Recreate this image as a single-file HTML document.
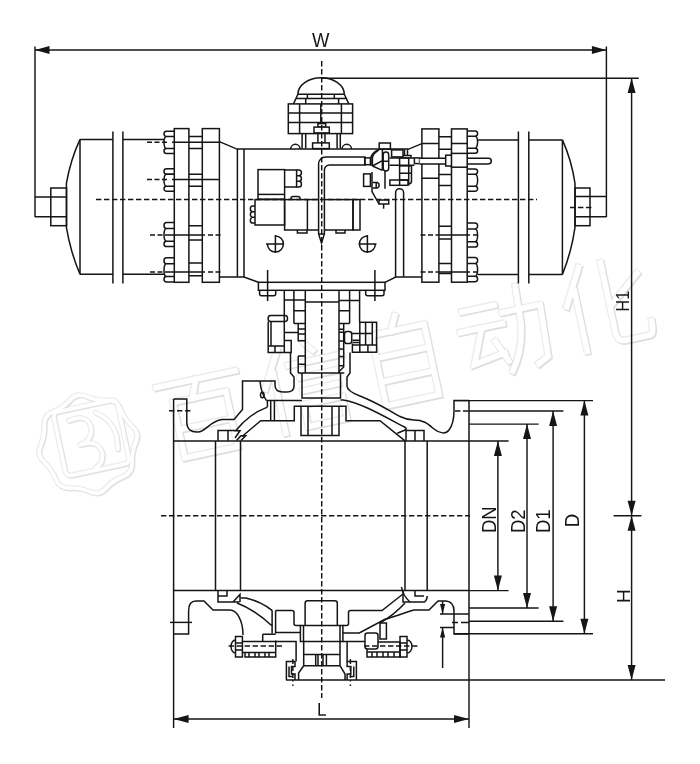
<!DOCTYPE html>
<html><head><meta charset="utf-8">
<style>
html,body{margin:0;padding:0;background:#fff;}
body{width:700px;height:764px;overflow:hidden;font-family:"Liberation Sans",sans-serif;}
svg{display:block}
.l{fill:none;stroke:#151515;stroke-width:1.5;stroke-linecap:butt;stroke-linejoin:miter}
.f{fill:#fff;stroke:#151515;stroke-width:1.5;stroke-linejoin:miter}
.t{fill:none;stroke:#151515;stroke-width:1.45}
.d{fill:none;stroke:#151515;stroke-width:1.45;stroke-dasharray:5.4 2.6}
.a{fill:#151515;stroke:none}
.w{fill:none;stroke:#dcdcdc;stroke-width:1.3;stroke-linecap:round;stroke-linejoin:round}
text{font-family:"Liberation Sans",sans-serif;fill:#151515}
</style></head>
<body>
<svg width="700" height="764" viewBox="0 0 700 764">
<rect width="700" height="764" fill="#fff"/>
<g id="wm" fill="none" stroke-linecap="square" stroke-linejoin="miter">
<g stroke="#ececec" stroke-width="7.5">
<g transform="translate(148.8,377.3) rotate(-12) scale(0.9)"><path d="M5,12H95 M50,12L42,32 M20,32H80V95H20Z M20,63H80"/></g>
<g transform="translate(249.3,350.0) rotate(-12) scale(0.9)"><path d="M30,5L8,45 M20,30V98 M60,4L68,14 M38,25H98 M48,41H88 M48,56H88 M46,71H90V96H46Z"/></g>
<g transform="translate(349.7,322.7) rotate(-12) scale(0.9)"><path d="M50,2L42,18 M20,18H80V98H20Z M20,44H80 M20,71H80"/></g>
<g transform="translate(450.2,295.3) rotate(-12) scale(0.9)"><path d="M8,20H45 M2,42H50 M26,42L10,80L46,74 M38,60L48,84 M52,30H95L92,88L80,94 M72,5L70,45Q66,75 50,96"/></g>
<g transform="translate(550.6,268.0) rotate(-12) scale(0.9)"><path d="M30,5L8,45 M20,30V98 M92,25L55,55 M55,5V85Q55,95 65,95H92Q97,95 97,80"/></g>
</g>
<g stroke="#dedede" stroke-width="7.5">
<g transform="translate(150.5,379.0) rotate(-12) scale(0.9)"><path d="M5,12H95 M50,12L42,32 M20,32H80V95H20Z M20,63H80"/></g>
<g transform="translate(251.0,351.7) rotate(-12) scale(0.9)"><path d="M30,5L8,45 M20,30V98 M60,4L68,14 M38,25H98 M48,41H88 M48,56H88 M46,71H90V96H46Z"/></g>
<g transform="translate(351.4,324.4) rotate(-12) scale(0.9)"><path d="M50,2L42,18 M20,18H80V98H20Z M20,44H80 M20,71H80"/></g>
<g transform="translate(451.9,297.0) rotate(-12) scale(0.9)"><path d="M8,20H45 M2,42H50 M26,42L10,80L46,74 M38,60L48,84 M52,30H95L92,88L80,94 M72,5L70,45Q66,75 50,96"/></g>
<g transform="translate(552.3,269.7) rotate(-12) scale(0.9)"><path d="M30,5L8,45 M20,30V98 M92,25L55,55 M55,5V85Q55,95 65,95H92Q97,95 97,80"/></g>
</g>
<g stroke="#fff" stroke-width="6.2">
<g transform="translate(149.5,378.0) rotate(-12) scale(0.9)"><path d="M5,12H95 M50,12L42,32 M20,32H80V95H20Z M20,63H80"/></g>
<g transform="translate(250.0,350.7) rotate(-12) scale(0.9)"><path d="M30,5L8,45 M20,30V98 M60,4L68,14 M38,25H98 M48,41H88 M48,56H88 M46,71H90V96H46Z"/></g>
<g transform="translate(350.4,323.4) rotate(-12) scale(0.9)"><path d="M50,2L42,18 M20,18H80V98H20Z M20,44H80 M20,71H80"/></g>
<g transform="translate(450.9,296.0) rotate(-12) scale(0.9)"><path d="M8,20H45 M2,42H50 M26,42L10,80L46,74 M38,60L48,84 M52,30H95L92,88L80,94 M72,5L70,45Q66,75 50,96"/></g>
<g transform="translate(551.3,268.7) rotate(-12) scale(0.9)"><path d="M30,5L8,45 M20,30V98 M92,25L55,55 M55,5V85Q55,95 65,95H92Q97,95 97,80"/></g>
</g>
<g stroke-linecap="round" stroke-linejoin="round">
<g transform="translate(87.6,443.6) rotate(-12)" stroke="#eeeeee" stroke-width="5"><rect x="-28" y="-38" width="65" height="65" rx="5"/>
<path d="M46.8,-8.4Q53.0,0.0 46.8,8.4Q40.7,16.8 39.1,27.2Q37.5,37.5 27.2,39.1Q16.8,40.7 8.4,46.8Q0.0,53.0 -8.4,46.8Q-16.8,40.7 -27.2,39.1Q-37.5,37.5 -39.1,27.2Q-40.7,16.8 -46.8,8.4Q-53.0,0.0 -46.8,-8.4Q-40.7,-16.8 -39.1,-27.2Q-37.5,-37.5 -27.2,-39.1Q-16.8,-40.7 -8.4,-46.8Q-0.0,-53.0 8.4,-46.8Q16.8,-40.7 27.2,-39.1Q37.5,-37.5 39.1,-27.2Q40.7,-16.8 46.8,-8.4Z"/>
<path d="M-14,-27Q8,-31 6,-13Q4,-3 -8,-1Q12,-3 12,13Q10,23 2,25 M14,-29Q34,-15 28,11"/></g>
<g transform="translate(89.0,445.0) rotate(-12)" stroke="#e2e2e2" stroke-width="5"><rect x="-28" y="-38" width="65" height="65" rx="5"/>
<path d="M46.8,-8.4Q53.0,0.0 46.8,8.4Q40.7,16.8 39.1,27.2Q37.5,37.5 27.2,39.1Q16.8,40.7 8.4,46.8Q0.0,53.0 -8.4,46.8Q-16.8,40.7 -27.2,39.1Q-37.5,37.5 -39.1,27.2Q-40.7,16.8 -46.8,8.4Q-53.0,0.0 -46.8,-8.4Q-40.7,-16.8 -39.1,-27.2Q-37.5,-37.5 -27.2,-39.1Q-16.8,-40.7 -8.4,-46.8Q-0.0,-53.0 8.4,-46.8Q16.8,-40.7 27.2,-39.1Q37.5,-37.5 39.1,-27.2Q40.7,-16.8 46.8,-8.4Z"/>
<path d="M-14,-27Q8,-31 6,-13Q4,-3 -8,-1Q12,-3 12,13Q10,23 2,25 M14,-29Q34,-15 28,11"/></g>
<g transform="translate(88.2,444.2) rotate(-12)" stroke="#fff" stroke-width="3.6"><rect x="-28" y="-38" width="65" height="65" rx="5"/>
<path d="M46.8,-8.4Q53.0,0.0 46.8,8.4Q40.7,16.8 39.1,27.2Q37.5,37.5 27.2,39.1Q16.8,40.7 8.4,46.8Q0.0,53.0 -8.4,46.8Q-16.8,40.7 -27.2,39.1Q-37.5,37.5 -39.1,27.2Q-40.7,16.8 -46.8,8.4Q-53.0,0.0 -46.8,-8.4Q-40.7,-16.8 -39.1,-27.2Q-37.5,-37.5 -27.2,-39.1Q-16.8,-40.7 -8.4,-46.8Q-0.0,-53.0 8.4,-46.8Q16.8,-40.7 27.2,-39.1Q37.5,-37.5 39.1,-27.2Q40.7,-16.8 46.8,-8.4Z"/>
<path d="M-14,-27Q8,-31 6,-13Q4,-3 -8,-1Q12,-3 12,13Q10,23 2,25 M14,-29Q34,-15 28,11"/></g>
</g>
</g>

<g id="dims" style="opacity:0.995">
<!-- W -->
<path class="t" d="M35,50H606.4 M35,46.5V217 M606.4,46.5V217"/>
<path class="a" d="M35,50l14.5,-4v8z M606.4,50l-14.5,-4v8z"/>
<text transform="translate(320.8,47) rotate(0.03) scale(0.9,1)" font-size="20.5" text-anchor="middle">W</text>
<!-- H1 / H -->
<path class="t" d="M322,78.3H638.8 M631.6,78V680 M613.6,515.8H641.4 M286,680H665"/>
<path class="a" d="M631.6,78l-4,15h8z M631.6,515.8l-4,-15h8z M631.6,515.8l-4,15h8z M631.6,680l-4,-15h8z"/>
<text transform="translate(628.9,311.5) rotate(-90) scale(0.9,1)" font-size="18">H1</text>
<text transform="translate(630,603) rotate(-90) scale(1,1)" font-size="19.2">H</text>
<!-- L -->
<path class="t" d="M173.6,634V728 M469,634V728 M173.6,719H469"/>
<path class="a" d="M173.6,719l15,-4v8z M469,719l-15,-4v8z"/>
<text transform="translate(321.8,715.7) rotate(0.03) scale(0.92,1)" font-size="18.6" text-anchor="middle">L</text>
<!-- D series -->
<path class="t" d="M454,400.6H593 M469,410.9H563.4 M469,424.1H538.6 M469,440.9H508.6 M469,590.6H508.6 M469,608H538.6 M469,621.3H563.4 M454,633.7H593"/>
<path class="t" d="M497.9,440.9V590.6 M527,424.1V608 M553.1,410.9V621.3 M584.4,400.6V633.7"/>
<path class="a" d="M497.9,440.9l-4,15h8z M497.9,590.6l-4,-15h8z M527,424.1l-4,15h8z M527,608l-4,-15h8z M553.1,410.9l-4,15h8z M553.1,621.3l-4,-15h8z M584.4,400.6l-4,15h8z M584.4,633.7l-4,-15h8z"/>
<text transform="translate(495.7,533) rotate(-90) scale(0.95,1)" font-size="19.5">DN</text>
<text transform="translate(525,533) rotate(-90) scale(0.95,1)" font-size="19.5">D2</text>
<text transform="translate(549.7,533) rotate(-90) scale(0.95,1)" font-size="19.5">D1</text>
<text transform="translate(579.3,527.3) rotate(-90) scale(0.96,1)" font-size="19.5">D</text>
<!-- flange thickness -->
<path class="t" d="M440,614H469 M440,627.4H454 M442.6,601V614 M442.6,627.4V668"/>
<path class="a" d="M442.6,614l-2.6,-10h5.2z M442.6,627.4l-2.6,10h5.2z"/>
</g>

<g id="act">
<!-- left rod + nut -->
<path class="l" d="M35,197H51 M35,216.8H51"/>
<rect class="l" x="50.8" y="188" width="15.8" height="37.7"/>
<path class="l" d="M50.8,197H66.6 M50.8,216.8H66.6"/>
<!-- left end cap -->
<path class="l" d="M80,139.4Q70.5,160 66.4,183.4V227.4Q70.5,252 80,274.3"/>
<path class="l" d="M80,139.4V274.3"/>
<!-- left cylinder -->
<path class="l" d="M80,139.4H112.9 M122.9,139.4H164.3 M80,274.3H112.9 M122.9,274.3H164.3"/>
<path class="l" d="M112.9,131.4V283.4 M122.9,131.4V283.4"/>
<!-- left nuts -->
<path class="l" d="M174.3,131.2H166.6a2.6,2.65 0 0 0 0,5.30H174.3 M174.3,136.6H166.6a2.6,6.00 0 0 0 0,12.00H174.3 M174.3,148.6H166.5a2.5,2.50 0 0 0 0,5.00H174.3 M174.3,168.8H166.6a2.6,2.65 0 0 0 0,5.30H174.3 M174.3,174.2H166.6a2.6,6.00 0 0 0 0,12.00H174.3 M174.3,186.2H166.5a2.5,2.50 0 0 0 0,5.00H174.3 M174.3,222.4H166.6a2.6,3.00 0 0 0 0,6.00H174.3 M174.3,228.4H166.6a2.6,6.40 0 0 0 0,12.80H174.3 M174.3,241.2H166.6a2.6,2.70 0 0 0 0,5.40H174.3 M174.3,257.8H166.6a2.6,3.00 0 0 0 0,6.00H174.3 M174.3,263.8H166.6a2.6,6.40 0 0 0 0,12.80H174.3 M174.3,276.6H166.6a2.6,2.70 0 0 0 0,5.40H174.3"/>
<!-- left flanges -->
<rect class="l" x="174.3" y="128.6" width="14.6" height="153.7"/>
<rect class="l" x="202.3" y="128.6" width="17.1" height="153.7"/>
<path class="l" d="M188.9,136.6H202.3 M188.9,148.6H202.3 M188.9,174.3H202.3 M188.9,186.3H202.3 M188.9,225.7H202.3 M188.9,240H202.3 M188.9,262.9H202.3 M188.9,275.7H202.3"/>
<!-- bolt dashed center lines left -->
<path class="l" d="M147,142.3h5 M154.5,142.3h5 M162,142.3h5 M172,142.3H219 M147,179.4h5 M154.5,179.4h5 M162,179.4h5 M172,179.4H219 M150,234.9h5 M157.5,234.9h5 M165,234.9H205 M208,234.9h5 M215.5,234.9h5 M150,272h5 M157.5,272h5 M165,272H205 M208,272h5 M215.5,272h5"/>
<!-- body -->
<path class="l" d="M219.4,141.6L237,149.1H408.7L421.9,143.6"/>
<path class="l" d="M237.4,149.1V277 M244,149.1V277"/>
<path class="l" d="M219.4,277H244L258.4,282.3 M385,282.3L395.7,277.1H421.9"/>
<rect class="l" x="258.4" y="282.3" width="126.6" height="8"/>
<!-- right flanges -->
<rect class="l" x="421.9" y="128.9" width="17" height="153.3"/>
<rect class="l" x="451.5" y="128.9" width="15.7" height="153.3"/>
<path class="l" d="M438.9,136.7H451.5 M438.9,149.3H451.5 M438.9,174.4H451.5 M438.9,185.4H451.5 M438.9,226.3H451.5 M438.9,238.9H451.5 M438.9,263.4H451.5 M438.9,273.4H451.5"/>
<path class="l" d="M421.9,143.4H438.9 M451.5,143.4H467.2 M421.9,178.3H438.9"/>
<!-- right nuts -->
<path class="l" d="M467.2,130.9H475.0a2.6,2.65 0 0 1 0,5.30H467.2 M467.2,136.2H475.0a2.6,6.00 0 0 1 0,12.00H467.2 M467.2,148.2H475.1a2.5,2.50 0 0 1 0,5.00H467.2 M467.2,168.9H475.0a2.6,2.65 0 0 1 0,5.30H467.2 M467.2,174.2H475.0a2.6,6.00 0 0 1 0,12.00H467.2 M467.2,186.2H475.1a2.5,2.50 0 0 1 0,5.00H467.2 M467.2,222.9H475.0a2.6,3.00 0 0 1 0,6.00H467.2 M467.2,228.9H475.0a2.6,6.40 0 0 1 0,12.80H467.2 M467.2,241.7H475.0a2.6,2.70 0 0 1 0,5.40H467.2 M467.2,257.5H475.0a2.6,3.00 0 0 1 0,6.00H467.2 M467.2,263.5H475.0a2.6,6.40 0 0 1 0,12.80H467.2 M467.2,276.3H475.0a2.6,2.70 0 0 1 0,5.40H467.2"/>
<path class="l" d="M420.5,234.9h5 M428,234.9h5 M435.5,234.9h3 M439,234.9H470 M473,234.9h5 M420.5,272h5 M428,272h5 M435.5,272h3 M439,272H470 M473,272h5"/>
<!-- right cylinder -->
<path class="l" d="M477.6,139.9H518.4 M528.8,139.9H562.4 M477.6,274.4H518.4 M528.8,274.4H562.4"/>
<path class="l" d="M518.4,131.4V283.5 M528.8,131.4V283.5"/>
<path class="l" d="M562.4,139.9V274.4"/>
<path class="l" d="M562.4,139.9Q571.5,160 575,183.4V227.4Q571.5,252 562.4,274.4"/>
<rect class="l" x="575" y="188" width="15" height="37.7"/>
<path class="l" d="M575,196.6H590 M575,216.8H590"/>
<path class="l" d="M590,196.6H606.4 M590,216.8H606.4"/>
<path class="d" d="M570,207.4H594"/>
</g>

<g id="act2">
<!-- limit switch box -->
<path class="l" d="M297.9,94.3A23.2,16.5 0 0 1 344.3,94.3"/><path class="l" d="M320.8,103.9V123.6"/>
<path class="l" d="M297.9,94.3H344.3 M295.7,98.6H347.1 M297.9,94.3L293.5,103.9 M344.3,94.3L348.8,103.9"/>
<path class="l" d="M307.4,94.3V98.6 M334.3,94.3V98.6 M305.7,98.6V103.9 M338.6,98.6V103.9"/>
<rect class="l" x="288.3" y="103.9" width="64.3" height="29.7"/>
<path class="l" d="M288.3,112.9H352.6 M288.3,122.6H352.6 M299.6,103.9V133.6 M341.4,103.9V133.6"/>
<path class="l" d="M302.1,133.6V148.6 M305.7,133.6V148.6 M337.1,133.6V148.6 M340.3,133.6V148.6"/>
<rect class="l" x="317.9" y="123.6" width="7.8" height="3.5"/>
<rect class="f" x="314" y="127.1" width="15.3" height="5.8"/>
<path class="l" d="M317.9,132.9V142.9 M325,132.9V142.9"/>
<rect class="l" x="312.6" y="142.9" width="16.7" height="5.7"/>
<path class="l" d="M290.7,149A4.7,4.7 0 0 1 300.1,149 M342.1,149A4.7,4.7 0 0 1 351.5,149"/>
<!-- solenoid -->
<rect class="l" x="258" y="169.6" width="26.6" height="29.6"/>
<path class="l" d="M258,194.4H284.6"/>
<path class="l" d="M284.6,170H296.6V187H284.6"/>
<path class="l" d="M296.6,170H299a2.4,2.8 0 0 1 0,5.7a2.4,2.8 0 0 1 0,5.6a2.4,2.8 0 0 1 0,5.7H296.6 M296.6,175.7H299 M296.6,181.3H299"/>
<rect class="l" x="255" y="199.6" width="29.6" height="25.4"/>
<path class="l" d="M255,206H252.6a2.2,2.8 0 0 0 0,5.7a2.2,2.8 0 0 0 0,5.6a2.2,2.8 0 0 0 0,5.7H255 M252.6,211.7H255 M252.6,217.3H255"/>
<rect class="l" x="284.6" y="199.6" width="68.4" height="30.4"/>
<path class="l" d="M307.4,199.6V230"/>
<rect class="l" x="353" y="199.6" width="7" height="30.4"/>
<path class="l" d="M291,199.6V198.4a2,2 0 0 1 2,-2H298a2,2 0 0 1 2,2V199.6"/>
<path class="l" d="M297.4,230V233H307V230 M336,230V233H345V230"/>
<!-- pipe -->
<path class="f" d="M318.6,234V164A7,7 0 0 1 325.6,157H365V165H329.4A5,5 0 0 0 324.4,170V234L321.5,243Z"/>
<path class="l" d="M318.6,234H324.4"/>
<!-- symbols -->
<path class="l" d="M275.4,236A8,8 0 1 1 267.4,244 M275.4,235V253 M266,244H284"/>
<path class="l" d="M367.4,236A8,8 0 1 0 375.4,244 M367.4,235V253 M358.5,244H376.5"/>
<!-- regulator assembly -->
<rect class="l" x="379.2" y="143" width="11.2" height="6.3"/>
<rect class="l" x="364.7" y="157.9" width="5.7" height="6.8"/>
<path class="l" d="M377.9,149.9Q371,153.5 371,158V166"/>
<path class="l" d="M379,149.9Q372.4,154 372.4,158V166" />
<path class="l" d="M372.4,166L382.4,160.7 M372.4,166L382.4,170.4 M382.4,149.3V170.4"/>
<rect class="l" x="383.2" y="152" width="5.5" height="19" rx="2.7"/>
<path class="l" d="M383.2,161.3H388.7 M385,171V188.7"/>
<path class="l" d="M389.5,157.9H414.4 M389.5,165.3H414.4"/>
<rect class="l" x="391.6" y="149.9" width="11.4" height="7"/>
<path class="l" d="M404.5,149.3V155 M407.5,149.3V155 M403,155.5H411V157.9"/>
<rect class="l" x="399.6" y="157.9" width="9.1" height="8"/>
<rect class="l" x="414.4" y="157.9" width="5.2" height="5.7"/>
<path class="l" d="M399.6,165.9V185.3 M408.7,165.9V173 M399.6,173.3H411.5 M399.6,180H408.7 M408.7,165.9H411.5V181a3,3 0 0 1 -3,3 M408.7,173V185.3"/>
<rect class="l" x="389.9" y="180" width="18.1" height="5.3"/>
<rect class="l" x="363.6" y="173.9" width="6.8" height="12.5"/>
<path class="l" d="M372,172V191.6L379,204" stroke-width="1.8"/>
<path class="l" d="M372.6,182.4H377.5L379,184V186.5L377.5,188H372.6 M376.2,182.4V188"/>
<rect class="l" x="379" y="200" width="9.7" height="4"/>
<path class="l" d="M383.6,204V208.7"/>
<!-- standing tube -->
<path class="l" d="M395.6,277V192.7a4,4 0 0 1 8,0V277"/>
<!-- tie rod to right -->
<path class="f" d="M419.6,158.3H488.5a2.8,2.8 0 0 1 0,5.6H419.6"/>
<rect class="f" x="445.7" y="155.2" width="6" height="10.8"/>
<rect class="f" x="451.5" y="153.4" width="15.7" height="13.8"/>
</g>

<g id="yoke">
<!-- bolt heads below base plate -->
<path class="l" d="M259.6,290.3V293.7a2,2 0 0 0 2,2H273.7a2,2 0 0 0 2,-2V290.3"/>
<path class="l" d="M365.7,290.3V293.7a2,2 0 0 0 2,2H382a2,2 0 0 0 2,-2V290.3"/>
<path class="l" d="M267.6,270V301 M374.9,270V301" stroke-width="1.1"/>
<!-- yoke top row -->
<path class="l" d="M284.3,290.3V334 M284.3,300H305.3 M293.9,290.3V323.6 M305.3,290.3V372.9 M293.9,310.7H305.3 M293.9,323.6H305.3"/>
<path class="l" d="M298.2,323.6V340.7H305.3 M298.2,329H305.3 M298.2,334H305.3"/>
<path class="l" d="M305.3,302H339"/>
<path class="l" d="M359.6,290.3V322.3 M339,300.5H359.6 M349.6,290.3V323.6 M339,290.3V372.9 M339,310.7H349.6 M339,323.6H349.6"/>
<path class="l" d="M343.7,323.6V367L338.7,372 M339,329.2H343.7 M339,332.2H343.7 M339,341H343.7 M339,349H343.7 M339,356.5H343.7 M339,365.8H343.7"/>
<!-- left side bolt -->
<rect class="l" x="268.2" y="315.5" width="19.3" height="6" rx="2.5"/>
<path class="l" d="M268.2,321.5V346 M271,321.5V346 M268.2,346H284.3"/>
<path class="l" d="M268.2,346V352.4H291.2V340.5H284.3 M275,346V352.4 M284.3,334V352.4 M284.3,332.5H298.2"/>
<!-- right side assembly -->
<rect class="l" x="344.5" y="331.6" width="7.2" height="11.9" rx="2.6"/>
<rect class="l" x="359.8" y="322.3" width="16.8" height="29.9"/>
<path class="l" d="M365.6,322.3V345 M372.3,322.3V345 M359.8,333.5H372.3 M352.4,345H376.6 M352.4,343.5V352.2H359.8 M367.9,345V352.2"/>
<path class="l" d="M351.7,333.5H359.8 M352.4,340.3H359.8 M352.4,342.6H359.8"/>
<!-- lower left cells -->
<path class="l" d="M298.2,356V372.9 M298.2,356H305.3 M298.2,364.3H305.3"/>
<!-- stem bottom -->
<path class="l" d="M298.2,372.9H344.3"/>
<!-- necks -->
<path class="l" d="M290.5,352.4V373L294,377V386C294,390.500 291.500,392 287,392H283C278,392 275,390 275,385V381H242.500V409.500L234,419.500H222C210,421 206,431.500 198,432C191,432.500 186.800,429 186.800,422V399H173.600"/>
<path class="l" d="M350,352.400V373L347,377V386C347,390 352,393 360,396C380,404 395,414 400,416.500C405,419 408,420 414,420C424,420 428,424 434,429C440,434 446,434 449,430C453,425 454,415 454,410V400.500H469"/>
<!-- stem lower block -->
<path class="l" d="M302,372.900V398H340.500V372.900"/>
</g>

<g id="valve">
<!-- flange faces + bore -->
<path class="l" d="M173.600,399V634 M469,400.500V634"/>
<path class="l" d="M173.600,440.900H469 M173.600,590.600H469"/>
<!-- ball verticals -->
<path class="l" d="M215.500,440.900V590.600 M240.500,440.900V590.600 M405,440.900V590.600 M427.200,440.900V590.600"/>
<!-- flange bolt center marks -->
<path class="d" d="M169,410.700H192 M455,410.900H469"/>
<path class="t" d="M170,622.400H192"/><path class="t" d="M452,622.400h6 M461,622.400H469"/>
<!-- top-left seat -->
<path class="l" d="M218,440.900V430.600H235.500 M228,430.600V440.900"/>
<path class="l" d="M234.300,430.700H240L235,438 M236.500,440.500L241,435.700H245.700L241,440.500"/>
<!-- upper-left body arcs -->
<path class="l" d="M235.700,430.700Q249,414 267.400,407.100"/>
<path class="l" d="M242,436.5L260.7,420.7H275"/>
<path class="l" d="M267.400,400.700V407.100 M270.700,400.700V420.700 M274.400,400.700V420.700"/>
<path class="l" d="M266.500,400.600H302"/>
<path class="l" d="M260,381Q261,393 266.500,400.600"/>
<ellipse class="l" cx="262.300" cy="395" rx="1.800" ry="2.800"/>
<!-- stem socket -->
<path class="l" d="M274.400,420.700H294.300V406.300H346V420.700H380L405,440.900"/>
<path class="l" d="M301,406V435.600H339V406 M308,406V435.600 M332,406V435.600"/>
<!-- top-right seat -->
<path class="l" d="M406,440.900V430.500H424V440.900 M415,430.500V440.900"/>

<!-- upper-right inner arc -->
<path class="l" d="M340.500,400H343C362,403 385,417 404.500,427Q408,429 404.500,430.300L397.300,433.200"/>
<!-- lower-left flange + body -->
<path class="l" d="M173.600,634H188.600V611C188.600,604 192,601 196,601H204L213,610H230A13,25 0 0 1 243,635"/>
<path class="l" d="M218,590.600V602H239.500 M218,596H227V590.600 M233,602L240,594.500V602"/>
<path class="l" d="M240.500,598H246Q262,602 272.300,610.600"/>
<path class="l" d="M237,603Q255,610 271,625H272.300"/>
<path class="l" d="M272.100,610.600V633.6 M275.600,610.600V633.6"/>
<path class="l" d="M275.600,610.600H292a2,2 0 0 1 2,2V623.400a2,2 0 0 0 2,2H300.400"/>
<path class="l" d="M262.700,634.3H275.600 M275.600,632.6H300.400 M262.700,634.3V641 M242.400,641.400H296.100V661.400"/>
<!-- left bolt -->
<path class="l" d="M235.500,636.400H242.400V657H235.500Z M235.500,640A4.5,6.500 0 0 0 235.500,653 M235.500,643H242.400 M235.500,650H242.400"/>
<path class="l" d="M242.400,652.500H275.700V640.400 M245,652.500V657H275.700V652.500 M249,652.500V657 M255,652.500V657 M259,652.500V657 M265,652.500V657 M269,652.500V657"/>
<path class="d" d="M228.600,646H283.400"/>
<!-- trunnion -->
<path class="l" d="M305.100,625.400V603.300a2.500,2.500 0 0 1 2.500,-2.500H334.800a2.500,2.500 0 0 1 2.500,2.500V625.400"/>
<path class="l" d="M300.400,625.400H342.900V641.500H300.400Z M303.500,625.400V641.500 M340,625.400V641.500"/>
<path class="l" d="M303.700,641.500V665.700 M340,641.500V665.700 M303.700,654.500H340 M303.700,665.700H340"/>
<path class="l" d="M315.700,654.500V665.700 M318,654.500V665.700 M323,654.500V665.700 M326.400,654.500V665.700"/>
<path class="l" d="M303.700,665.700L298.600,673V680 M340,665.700L345,674V680"/>
<!-- bottom cap small bolts -->
<path class="l" d="M286.400,680V661.400H295V666.500H291.500V674H295V680 M289,666.500V676.500H293"/>
<path class="l" d="M356.400,680V661.400H347.100V666.500H350.800V674H347.100V680 M353.800,666.500V676.500H349.800"/>
<path class="t" d="M292.900,659V681.500 M292.900,684.500v1.600 M350.400,659V681.500 M350.400,684.500v1.600" stroke-dasharray="5 2"/>
<!-- lower-right flange + body -->
<path class="l" d="M469,634H454V611C454,605 451,601.500 446,601H438L429,610H414C404,613 396,616 385,619.3L359.300,632.900H342.900"/>
<path class="l" d="M403,590.600V602H424.500Q427.200,600 427.200,596 M415,590.600V596H424"/>
<path class="l" d="M401.500,587Q403,596 410,602"/>
<path class="l" d="M403,594L382,610.500H350.500a2,2 0 0 0 -2,2V623.400a2,2 0 0 1 -2,2H342.900"/>
<path class="l" d="M405,603Q394,615 380,623"/>
<rect class="l" x="380" y="623" width="6.400" height="16"/>
<path class="l" d="M347.100,641.400V661.400 M342.900,641.400H365"/>
<!-- right bolt -->
<rect class="l" x="365" y="633" width="13" height="16" rx="2.500"/>
<path class="l" d="M367,652H400V642H378 M367,649V657H400V652 M372,652V657 M377,652V657 M383,652V657 M388,652V657 M394,652V657"/>
<path class="l" d="M400,636.400H407V657H400Z M407,640A5,6.500 0 0 1 407,653 M400,643H407 M400,650H407"/>
<path class="d" d="M364,646H419"/>
</g>

<g id="center">
<path class="d" d="M321.7,61V698"/>
<path class="d" d="M161,515.7H470"/>
<path class="d" d="M96,199.5H537"/>
</g>

</svg>
</body></html>
